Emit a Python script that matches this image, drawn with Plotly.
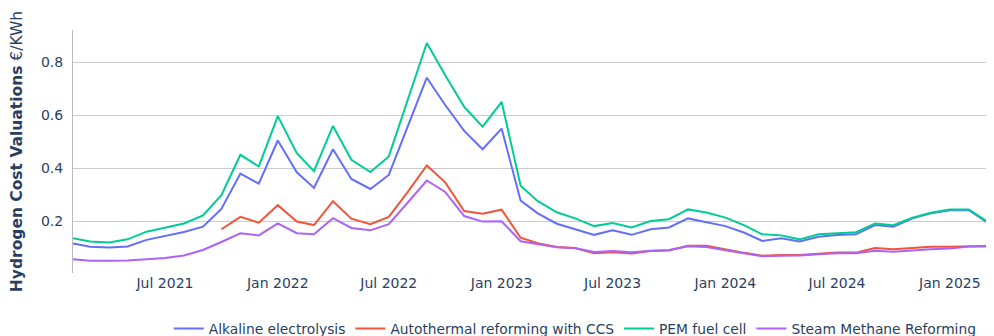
import plotly.graph_objects as go

months = [
    "2021-02-01", "2021-03-01", "2021-04-01", "2021-05-01", "2021-06-01", "2021-07-01",
    "2021-08-01", "2021-09-01", "2021-10-01", "2021-11-01", "2021-12-01",
    "2022-01-01", "2022-02-01", "2022-03-01", "2022-04-01", "2022-05-01", "2022-06-01",
    "2022-07-01", "2022-08-01", "2022-09-01", "2022-10-01", "2022-11-01", "2022-12-01",
    "2023-01-01", "2023-02-01", "2023-03-01", "2023-04-01", "2023-05-01", "2023-06-01",
    "2023-07-01", "2023-08-01", "2023-09-01", "2023-10-01", "2023-11-01", "2023-12-01",
    "2024-01-01", "2024-02-01", "2024-03-01", "2024-04-01", "2024-05-01", "2024-06-01",
    "2024-07-01", "2024-08-01", "2024-09-01", "2024-10-01", "2024-11-01", "2024-12-01",
    "2025-01-01", "2025-02-01", "2025-03-01", "2025-04-01",
]

alkaline = [
    0.115, 0.103, 0.100, 0.104, 0.129, 0.144,
    0.159, 0.179, 0.246, 0.379, 0.341,
    0.504, 0.384, 0.325, 0.471, 0.359, 0.321,
    0.374, 0.556, 0.741, 0.638, 0.540, 0.471,
    0.549, 0.277, 0.229, 0.190, 0.170, 0.148,
    0.165, 0.148, 0.169, 0.176, 0.210, 0.197,
    0.181, 0.156, 0.125, 0.135, 0.123, 0.141,
    0.147, 0.150, 0.185, 0.179, 0.210, 0.229,
    0.241, 0.241, 0.198, 0.150,
]

autothermal_ccs = [
    None, None, None, None, None, None,
    None, None, 0.169, 0.216, 0.194,
    0.260, 0.198, 0.185, 0.275, 0.209, 0.188,
    0.216, 0.310, 0.410, 0.346, 0.238, 0.228,
    0.243, 0.137, 0.116, 0.102, 0.098, 0.079,
    0.082, 0.078, 0.087, 0.089, 0.107, 0.107,
    0.093, 0.080, 0.069, 0.072, 0.072, 0.078,
    0.081, 0.081, 0.098, 0.094, 0.098, 0.103,
    0.103, 0.106, 0.106, 0.092,
]

pem_fuel_cell = [
    0.135, 0.123, 0.119, 0.131, 0.160, 0.175,
    0.191, 0.221, 0.298, 0.450, 0.406,
    0.596, 0.456, 0.388, 0.559, 0.431, 0.385,
    0.444, 0.658, 0.872, 0.750, 0.631, 0.556,
    0.650, 0.333, 0.275, 0.233, 0.210, 0.181,
    0.193, 0.176, 0.200, 0.207, 0.244, 0.232,
    0.213, 0.184, 0.150, 0.146, 0.131, 0.150,
    0.155, 0.158, 0.191, 0.184, 0.213, 0.231,
    0.244, 0.244, 0.201, 0.152,
]

steam_methane = [
    0.056, 0.050, 0.050, 0.051, 0.056, 0.061,
    0.070, 0.091, 0.121, 0.154, 0.146,
    0.191, 0.154, 0.150, 0.211, 0.174, 0.165,
    0.188, 0.270, 0.353, 0.310, 0.219, 0.198,
    0.199, 0.124, 0.113, 0.101, 0.097, 0.083,
    0.087, 0.082, 0.088, 0.091, 0.105, 0.102,
    0.090, 0.078, 0.067, 0.069, 0.070, 0.075,
    0.079, 0.079, 0.088, 0.084, 0.090, 0.094,
    0.096, 0.104, 0.104, 0.086,
]

series = [
    ("Alkaline electrolysis", alkaline, "#636efa"),
    ("Autothermal reforming with CCS", autothermal_ccs, "#EF553B"),
    ("PEM fuel cell", pem_fuel_cell, "#00cc96"),
    ("Steam Methane Reforming", steam_methane, "#ab63fa"),
]

FONT = "Verdana, DejaVu Sans, sans-serif"

fig = go.Figure()
for name, vals, color in series:
    fig.add_trace(go.Scatter(
        x=months, y=vals, name=name, mode="lines",
        line=dict(color=color, width=2),
    ))

fig.update_layout(
    width=986, height=328,
    template="plotly_white",
    paper_bgcolor="white", plot_bgcolor="white",
    font=dict(family=FONT, color="#2a3f5f", size=14),
    margin=dict(l=65, r=0, t=22, b=63, autoexpand=False),
    showlegend=True,
    legend=dict(
        orientation="h", xanchor="left", x=0.104, yanchor="top", y=-0.165,
        font=dict(size=13.8, family=FONT, color="#2a3f5f"),
        bgcolor="rgba(0,0,0,0)",
        tracegroupgap=0,
    ),
    xaxis=dict(
        type="date",
        range=["2021-02-01", "2025-03-14"],
        dtick="M6", tick0="2021-07-01", tickformat="%b %Y",
        showgrid=False, zeroline=False, showline=False,
        tickfont=dict(size=14),
        automargin=False,
    ),
    yaxis=dict(
        range=[0.004, 0.921],
        tickvals=[0.2, 0.4, 0.6, 0.8],
        ticktext=["0.2", "0.4", "0.6", "0.8"],
        showgrid=True, gridcolor="#cccccc", gridwidth=1,
        zeroline=False,
        showline=True, linecolor="#bbbbbb", linewidth=1,
        tickfont=dict(size=14),
        ticklabelstandoff=6,
        automargin=False,
        title=dict(text="<b>Hydrogen Cost Valuations</b> €/KWh",
                   font=dict(size=15.5, family=FONT, color="#2a3f5f"),
                   standoff=17),
    ),
)

fig.write_html("out.html")
